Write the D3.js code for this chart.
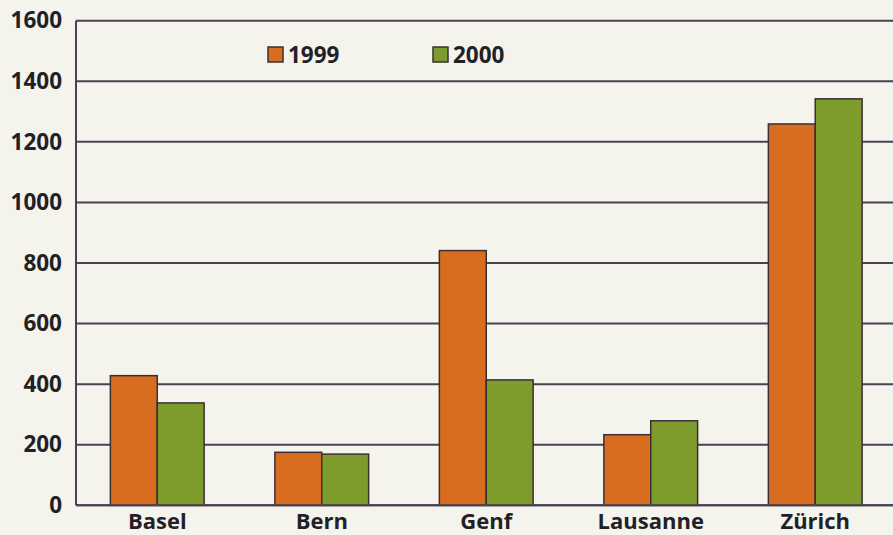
<!DOCTYPE html>
<html>
<head>
<meta charset="utf-8">
<script src="https://cdn.jsdelivr.net/npm/d3@7/dist/d3.min.js"></script>
<style>
html,body{margin:0;padding:0;background:#f4f3ec;}
svg{display:block;}
text{font-family:"Open Sans","Noto Sans",sans-serif;font-weight:700;fill:#231f26;}
</style>
</head>
<body>
<svg id="chart" width="893" height="535"></svg>
<script>
const categories = ["Basel", "Bern", "Genf", "Lausanne", "Zürich"];
const seriesNames = ["1999", "2000"];
const values1999 = [428, 175, 841, 233, 1259];
const values2000 = [338, 169, 414, 279, 1342];
const yTicks = [0, 200, 400, 600, 800, 1000, 1200, 1400, 1600];
const colors = ["#d96d1f", "#7e9c2c"];

(function () {
const svg = d3.select("#chart");
const W = 893, H = 535;
const plotLeft = 76, plotTop = 20.7, plotBottom = 505.3;

svg.append("rect").attr("width", W).attr("height", H).attr("fill", "#f4f3ec");

const y = d3.scaleLinear().domain([0, 1600]).range([plotBottom, plotTop]);
const x = d3.scaleBand().domain(categories).range([75, 897.5]).paddingInner(0.43).paddingOuter(0.215);
const xs = d3.scaleBand().domain(seriesNames).range([0, x.bandwidth()]);

// gridlines
svg.append("g").selectAll("line").data(yTicks).join("line")
  .attr("x1", plotLeft).attr("x2", W)
  .attr("y1", d => y(d)).attr("y2", d => y(d))
  .attr("stroke", "#4b4250").attr("stroke-width", 2);

// y axis line
svg.append("line").attr("x1", plotLeft).attr("x2", plotLeft).attr("y1", plotTop).attr("y2", plotBottom)
  .attr("stroke", "#4b4250").attr("stroke-width", 2);

// y tick labels
const yAxis = d3.axisLeft(y).tickValues(yTicks).tickSize(0).tickPadding(14).tickFormat(d3.format("d"));
const ga = svg.append("g").attr("transform", `translate(${plotLeft},0)`).call(yAxis);
ga.select(".domain").remove();
ga.selectAll("text").attr("font-size", 22.5).attr("font-family", '"Open Sans","Noto Sans",sans-serif')
  .attr("font-weight", 700).attr("fill", "#231f26");

// bars
const data = categories.map((c, i) => ({cat: c, vals: [values1999[i], values2000[i]]}));
const groups = svg.append("g").selectAll("g").data(data).join("g")
  .attr("transform", d => `translate(${x(d.cat)},0)`);
groups.selectAll("rect").data(d => d.vals.map((v, j) => ({name: seriesNames[j], v, j}))).join("rect")
  .attr("x", d => xs(d.name))
  .attr("width", xs.bandwidth())
  .attr("y", d => y(d.v))
  .attr("height", d => y(0) - y(d.v))
  .attr("fill", d => colors[d.j])
  .attr("stroke", "#3a2f36").attr("stroke-width", 1.5);

// x axis
const xAxis = d3.axisBottom(x).tickSize(0).tickPadding(8);
const gx = svg.append("g").attr("transform", `translate(0,${plotBottom})`).call(xAxis);
gx.select(".domain").remove();
gx.selectAll("text").attr("font-size", 22).attr("font-family", '"Open Sans","Noto Sans",sans-serif')
  .attr("font-weight", 700).attr("fill", "#231f26");
svg.append("line").attr("x1", plotLeft).attr("x2", W).attr("y1", plotBottom).attr("y2", plotBottom)
  .attr("stroke", "#4b4250").attr("stroke-width", 2);

// legend
const legendX = [268, 433];
const lg = svg.append("g").selectAll("g").data(seriesNames).join("g")
  .attr("transform", (d, i) => `translate(${legendX[i]},47)`);
lg.append("rect").attr("width", 15).attr("height", 15)
  .attr("fill", (d, i) => colors[i]).attr("stroke", "#3a2f36").attr("stroke-width", 1.5);
lg.append("text").attr("x", 20).attr("y", 15.5).attr("font-size", 22.5).text(d => d);
})();
</script>
</body>
</html>
